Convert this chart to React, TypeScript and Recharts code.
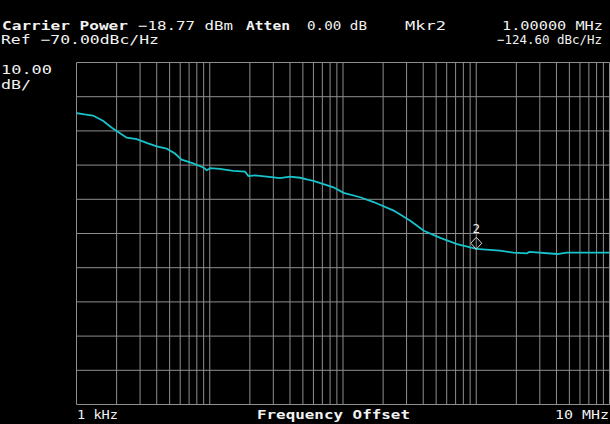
import { LineChart, Line, XAxis, YAxis, ReferenceLine, ReferenceDot } from "recharts"

// trace (Hz, dBc/Hz)
const freqs = [
    1000, 1150, 1330, 1590, 1830, 2000, 2380, 2830, 3360, 4000, 4750, 5480, 6150, 7500, 8950, 9500,
    10100, 11900, 15000, 18400, 19500, 21900, 26800, 33700, 40000, 47600, 53500, 60000, 84800,
    101000, 134600, 169600, 240000, 320000, 404000, 537000, 718000, 1000000, 1500000, 1900000,
    2400000, 2500000, 4060000, 4800000, 10000000,
]
const levels = [
    -84.8, -85.2, -85.5, -87.1, -89.0, -90.0, -92.0, -92.4, -93.5, -94.5, -95.2, -96.6, -98.4, -99.5, -100.7, -101.5,
    -100.9, -101.1, -101.7, -101.9, -103.2, -103.0, -103.4, -103.8, -103.4, -103.7, -104.2, -104.6, -106.5,
    -108.1, -109.4, -110.8, -113.3, -116.3, -119.2, -121.3, -123.1, -124.5, -125.0, -125.6,
    -125.8, -125.4, -126.0, -125.6, -125.6,
]

const xTicks = [
    1e3, 2e3, 3e3, 4e3, 5e3, 6e3, 7e3, 8e3, 9e3,
    1e4, 2e4, 3e4, 4e4, 5e4, 6e4, 7e4, 8e4, 9e4,
    1e5, 2e5, 3e5, 4e5, 5e5, 6e5, 7e5, 8e5, 9e5,
    1e6, 2e6, 3e6, 4e6, 5e6, 6e6, 7e6, 8e6, 9e6, 1e7,
]
const yTicks = [-170, -160, -150, -140, -130, -120, -110, -100, -90, -80, -70]

const marker = { freq: 1e6, level: -124.6, label: "2" }

const data = freqs.map((f, i) => ({ f, db: levels[i] }))

const FONT = "'DejaVu Sans Mono', monospace"
const TXT = "#f2f2f2"
const GRID = "#8e8e8e"

function MarkerShape(props: any) {
    const { cx, cy } = props
    const c = cy - 6
    return (
        <g>
            <path d={`M${cx},${c - 6} L${cx + 5.5},${c} L${cx},${c + 6} L${cx - 5.5},${c} Z`} fill="none" stroke="#d8d8d8" strokeWidth={1} />
            <text x={cx} y={cy - 16} textAnchor="middle" fill={TXT} fontFamily={FONT} fontSize={12.5}>{marker.label}</text>
        </g>
    )
}

function Label({ x, y, w, bold, children }: any) {
    return (
        <text x={x} y={y} textLength={w} lengthAdjust="spacingAndGlyphs" fill={TXT} fontFamily={FONT} fontSize={12.5} fontWeight={bold ? "bold" : "normal"}>
            {children}
        </text>
    )
}

export default function App() {
    return (
        <div style={{ position: "fixed", top: 0, left: 0, width: 610, height: 424, background: "#000" }}>
            <LineChart width={610} height={424} data={data} margin={{ top: 62.5, right: 0.5, bottom: 19.5, left: 76.5 }}>
                <XAxis dataKey="f" type="number" scale="log" domain={[1000, 10000000]} ticks={xTicks} height={0} tick={false} axisLine={false} tickLine={false} allowDataOverflow />
                <YAxis type="number" domain={[-170, -70]} ticks={yTicks} width={0} tick={false} axisLine={false} tickLine={false} />
                {xTicks.map((t) => (
                    <ReferenceLine key={`v${t}`} x={t} stroke={GRID} strokeWidth={1} />
                ))}
                {yTicks.map((t) => (
                    <ReferenceLine key={`h${t}`} y={t} stroke={GRID} strokeWidth={1} />
                ))}
                <Line dataKey="db" type="linear" stroke="#16c4cc" strokeWidth={1.8} dot={false} isAnimationActive={false} />
                <ReferenceDot x={marker.freq} y={marker.level} shape={MarkerShape} />
            </LineChart>
            <svg width={610} height={424} style={{ position: "absolute", top: 0, left: 0, pointerEvents: "none" }}>
                <Label x={2} y={29.5} w={126} bold>Carrier Power</Label>
                <Label x={138} y={29.5} w={95}>−18.77 dBm</Label>
                <Label x={246} y={29.5} w={44} bold>Atten</Label>
                <Label x={307} y={29.5} w={60}>0.00 dB</Label>
                <Label x={405} y={29.5} w={41}>Mkr2</Label>
                <Label x={502} y={29.5} w={101}>1.00000 MHz</Label>
                <Label x={1} y={44} w={158}>Ref −70.00dBc/Hz</Label>
                <Label x={497} y={44} w={105}>−124.60 dBc/Hz</Label>
                <Label x={1} y={74} w={51}>10.00</Label>
                <Label x={1} y={88.5} w={30}>dB/</Label>
                <Label x={77} y={419} w={41}>1 kHz</Label>
                <Label x={257} y={419} w={153} bold>Frequency Offset</Label>
                <Label x={555} y={419} w={54}>10 MHz</Label>
            </svg>
        </div>
    )
}
